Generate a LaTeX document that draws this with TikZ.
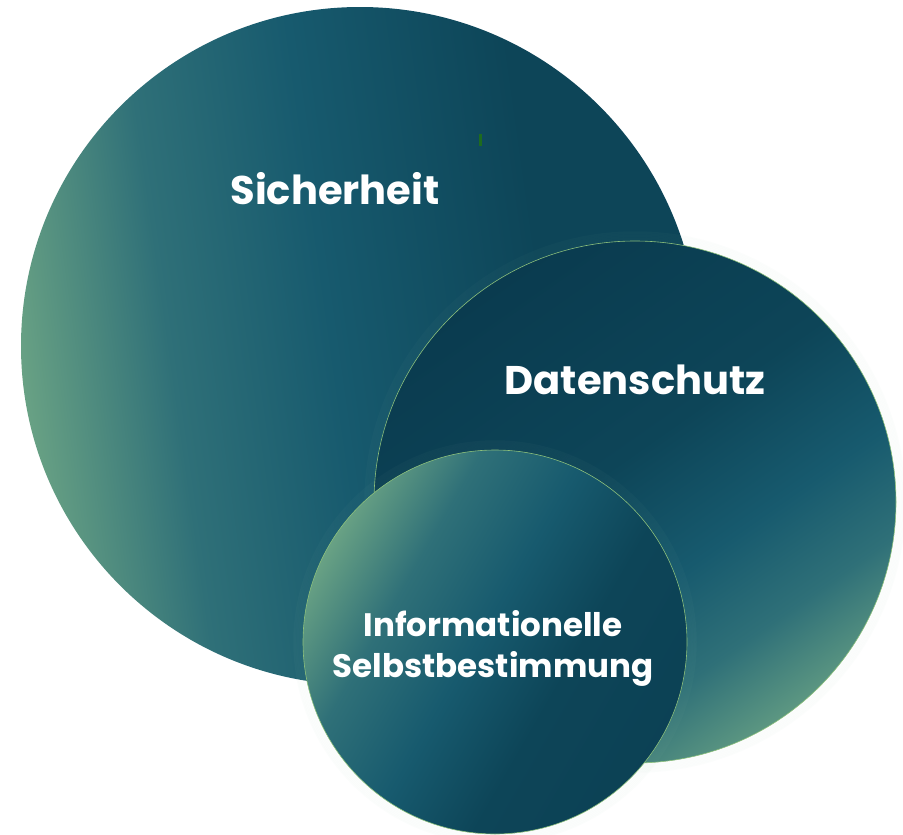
\documentclass[tikz,border=0pt]{standalone}
\usepackage{fontspec}
\setmainfont{Poppins}
\definecolor{lightg}{HTML}{68A184}
\definecolor{greent}{HTML}{2F7078}
\definecolor{midt}{HTML}{175A6E}
\definecolor{darkt}{HTML}{0D4558}
\definecolor{deept}{HTML}{0A3B4F}
\definecolor{rimg}{HTML}{8CC07C}
\definecolor{glowc}{HTML}{9CC8B0}
\definecolor{tick}{HTML}{1E6B1E}
\pgfdeclarehorizontalshading{bigshade}{100bp}{color(0bp)=(lightg); color(25bp)=(lightg); color(36bp)=(greent); color(48bp)=(midt); color(64bp)=(darkt); color(100bp)=(darkt)}
\pgfdeclarehorizontalshading{midshade}{100bp}{color(0bp)=(deept); color(25bp)=(deept); color(46bp)=(darkt); color(58bp)=(midt); color(67bp)=(greent); color(77bp)=(lightg); color(100bp)=(lightg)}
\pgfdeclarehorizontalshading{smallshade}{100bp}{color(0bp)=(lightg); color(25bp)=(lightg); color(36bp)=(greent); color(48bp)=(midt); color(60bp)=(darkt); color(100bp)=(deept)}
\tikzset{
  disc/.style={circle, inner sep=0pt, shade},
  rim/.style={draw=rimg, line width=0.6pt},
  label/.style={text=white, font=\bfseries, align=center, inner sep=0pt}
}
\begin{document}
\begin{tikzpicture}[x=1pt,y=-1pt]
\useasboundingbox[fill=white] (0,0) rectangle (903,835);
% large circle
\node[disc, minimum size=678pt, shading=bigshade, shading angle=8] (big) at (360,346) {};
\fill[tick] (479,134) rectangle (482,146);
\node[label, font=\bfseries\fontsize{40}{44}\selectfont] (sich) at (335,189) {Sicherheit};
% glow of middle circle
\foreach \i in {1,...,6} {
  \draw[glowc, opacity=0.03, line width=1.5pt] (635,502) circle ({261+1.5*\i});
}
\node[disc, minimum size=522pt, shading=midshade, shading angle=-55, rim] (mid) at (635,502) {};
\node[label, font=\bfseries\fontsize{40}{44}\selectfont] (daten) at (635,380) {Datenschutz};
% glow of small circle
\foreach \i in {1,...,6} {
  \draw[glowc, opacity=0.035, line width=1.5pt] (495,642) circle ({192+1.5*\i});
}
\node[disc, minimum size=384pt, shading=smallshade, shading angle=-30, rim] (small) at (495,642) {};
\node[label, font=\bfseries\fontsize{32.5}{41}\selectfont] (info) at (493,648) {Informationelle\\Selbstbestimmung};
\end{tikzpicture}
\end{document}
